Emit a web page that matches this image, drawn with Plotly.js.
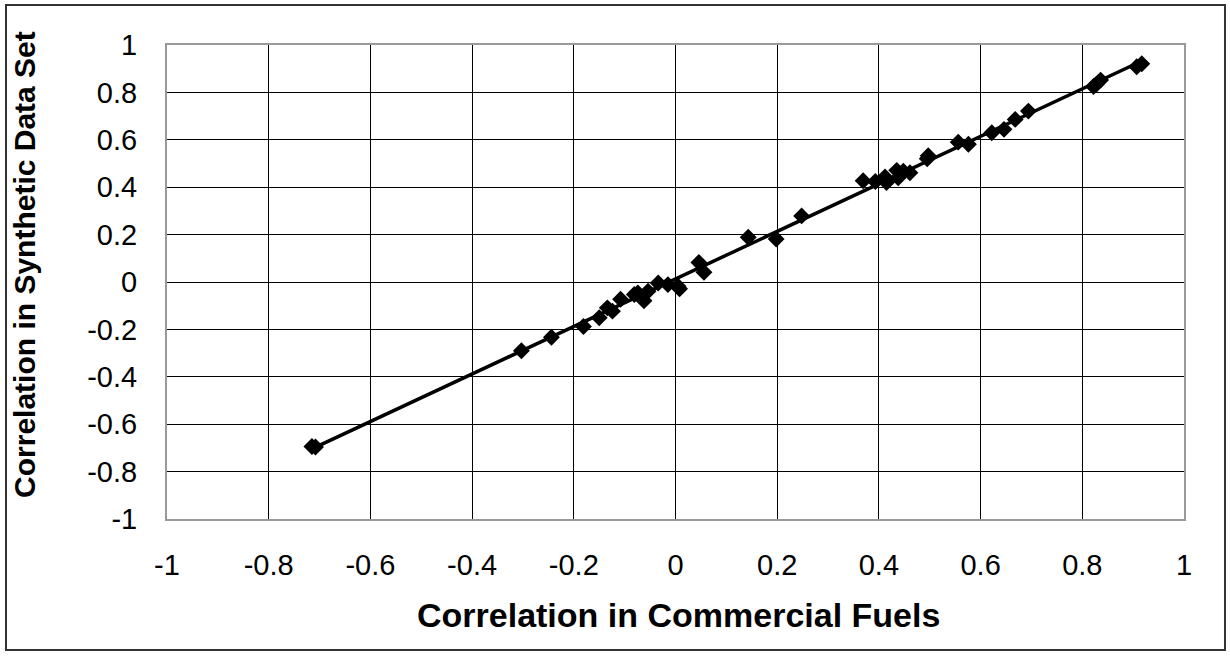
<!DOCTYPE html>
<html>
<head>
<meta charset="utf-8">
<script src="https://cdn.plot.ly/plotly-3.0.1.min.js"></script>
<style>
  html, body { margin: 0; padding: 0; background: #fff; }
  #chart { width: 1230px; height: 656px; }
</style>
</head>
<body>
<div id="chart"></div>
<script>
// Correlation coefficients: commercial fuels (x) vs synthetic data set (y)
const commercialCorr = [
  -0.715, -0.708, -0.303, -0.244, -0.181, -0.150, -0.134, -0.124, -0.108,
  -0.081, -0.074, -0.062, -0.054, -0.034, -0.015, 0.005, 0.008, 0.046,
  0.056, 0.143, 0.198, 0.248, 0.369, 0.393, 0.412, 0.415, 0.435, 0.438,
  0.448, 0.461, 0.495, 0.497, 0.556, 0.576, 0.622, 0.646, 0.668, 0.694,
  0.822, 0.828, 0.836, 0.907, 0.917
];
const syntheticCorr = [
  -0.694, -0.696, -0.290, -0.233, -0.188, -0.151, -0.109, -0.123, -0.073,
  -0.053, -0.046, -0.079, -0.039, -0.004, -0.011, -0.018, -0.029, 0.082,
  0.041, 0.189, 0.181, 0.279, 0.427, 0.424, 0.443, 0.420, 0.471, 0.440,
  0.467, 0.461, 0.520, 0.533, 0.590, 0.581, 0.630, 0.644, 0.686, 0.721,
  0.825, 0.835, 0.852, 0.908, 0.921
];
const tickVals = [-1, -0.8, -0.6, -0.4, -0.2, 0, 0.2, 0.4, 0.6, 0.8, 1];
const tickText = ['-1', '-0.8', '-0.6', '-0.4', '-0.2', '0', '0.2', '0.4', '0.6', '0.8', '1'];
const xTitle = 'Correlation in Commercial Fuels';
const yTitle = 'Correlation in Synthetic Data Set';

// Least-squares linear trend over the plotted points
function linearFit(xs, ys) {
  const n = xs.length;
  let sx = 0, sy = 0, sxx = 0, sxy = 0;
  for (let i = 0; i < n; i++) {
    sx += xs[i]; sy += ys[i]; sxx += xs[i] * xs[i]; sxy += xs[i] * ys[i];
  }
  const slope = (n * sxy - sx * sy) / (n * sxx - sx * sx);
  const intercept = (sy - slope * sx) / n;
  return { slope, intercept };
}
const fit = linearFit(commercialCorr, syntheticCorr);
const xMin = Math.min(...commercialCorr);
const xMax = Math.max(...commercialCorr);
const trendX = [xMin, xMax];
const trendY = trendX.map(v => fit.intercept + fit.slope * v);

const font = 'Liberation Sans, Arial, sans-serif';

const traces = [
  {
    x: trendX, y: trendY, type: 'scatter', mode: 'lines',
    line: { color: '#000', width: 3.5 }, hoverinfo: 'skip'
  },
  {
    x: commercialCorr, y: syntheticCorr, type: 'scatter', mode: 'markers',
    marker: { symbol: 'diamond', size: 13, color: '#000' }
  }
];

const axisCommon = {
  range: [-1, 1],
  tickmode: 'array',
  tickvals: tickVals,
  ticktext: tickText,
  showgrid: true,
  gridcolor: '#000',
  gridwidth: 1,
  zeroline: false,
  showline: true,
  linecolor: '#999',
  linewidth: 2,
  mirror: true,
  ticks: 'outside',
  tickcolor: 'rgba(0,0,0,0)',
  tickfont: { family: font, size: 29, color: '#000' },
  fixedrange: true
};

const layout = {
  width: 1230,
  height: 656,
  margin: { l: 167, r: 46, t: 45, b: 137 },
  paper_bgcolor: '#fff',
  plot_bgcolor: '#fff',
  showlegend: false,
  xaxis: Object.assign({}, axisCommon, { ticklen: 19 }),
  yaxis: Object.assign({}, axisCommon, { ticklen: 22 }),
  annotations: [
    {
      text: '<b>' + xTitle + '</b>', xref: 'paper', yref: 'paper',
      x: 0.5025, y: -0.2025, xanchor: 'center', yanchor: 'middle',
      showarrow: false, font: { family: font, size: 34, color: '#000' }
    },
    {
      text: '<b>' + yTitle + '</b>', xref: 'paper', yref: 'paper',
      x: -0.1396, y: 0.536, xanchor: 'center', yanchor: 'middle', textangle: -90,
      showarrow: false, font: { family: font, size: 30, color: '#000' }
    }
  ],
  shapes: [
    {
      type: 'rect', xref: 'paper', yref: 'paper',
      x0: -0.1583, x1: 1.0403, y0: -0.2764, y1: 1.0844,
      line: { color: '#333', width: 2 }, fillcolor: 'rgba(0,0,0,0)', layer: 'below'
    }
  ]
};

Plotly.newPlot('chart', traces, layout, { displayModeBar: false, staticPlot: true });
</script>
</body>
</html>
